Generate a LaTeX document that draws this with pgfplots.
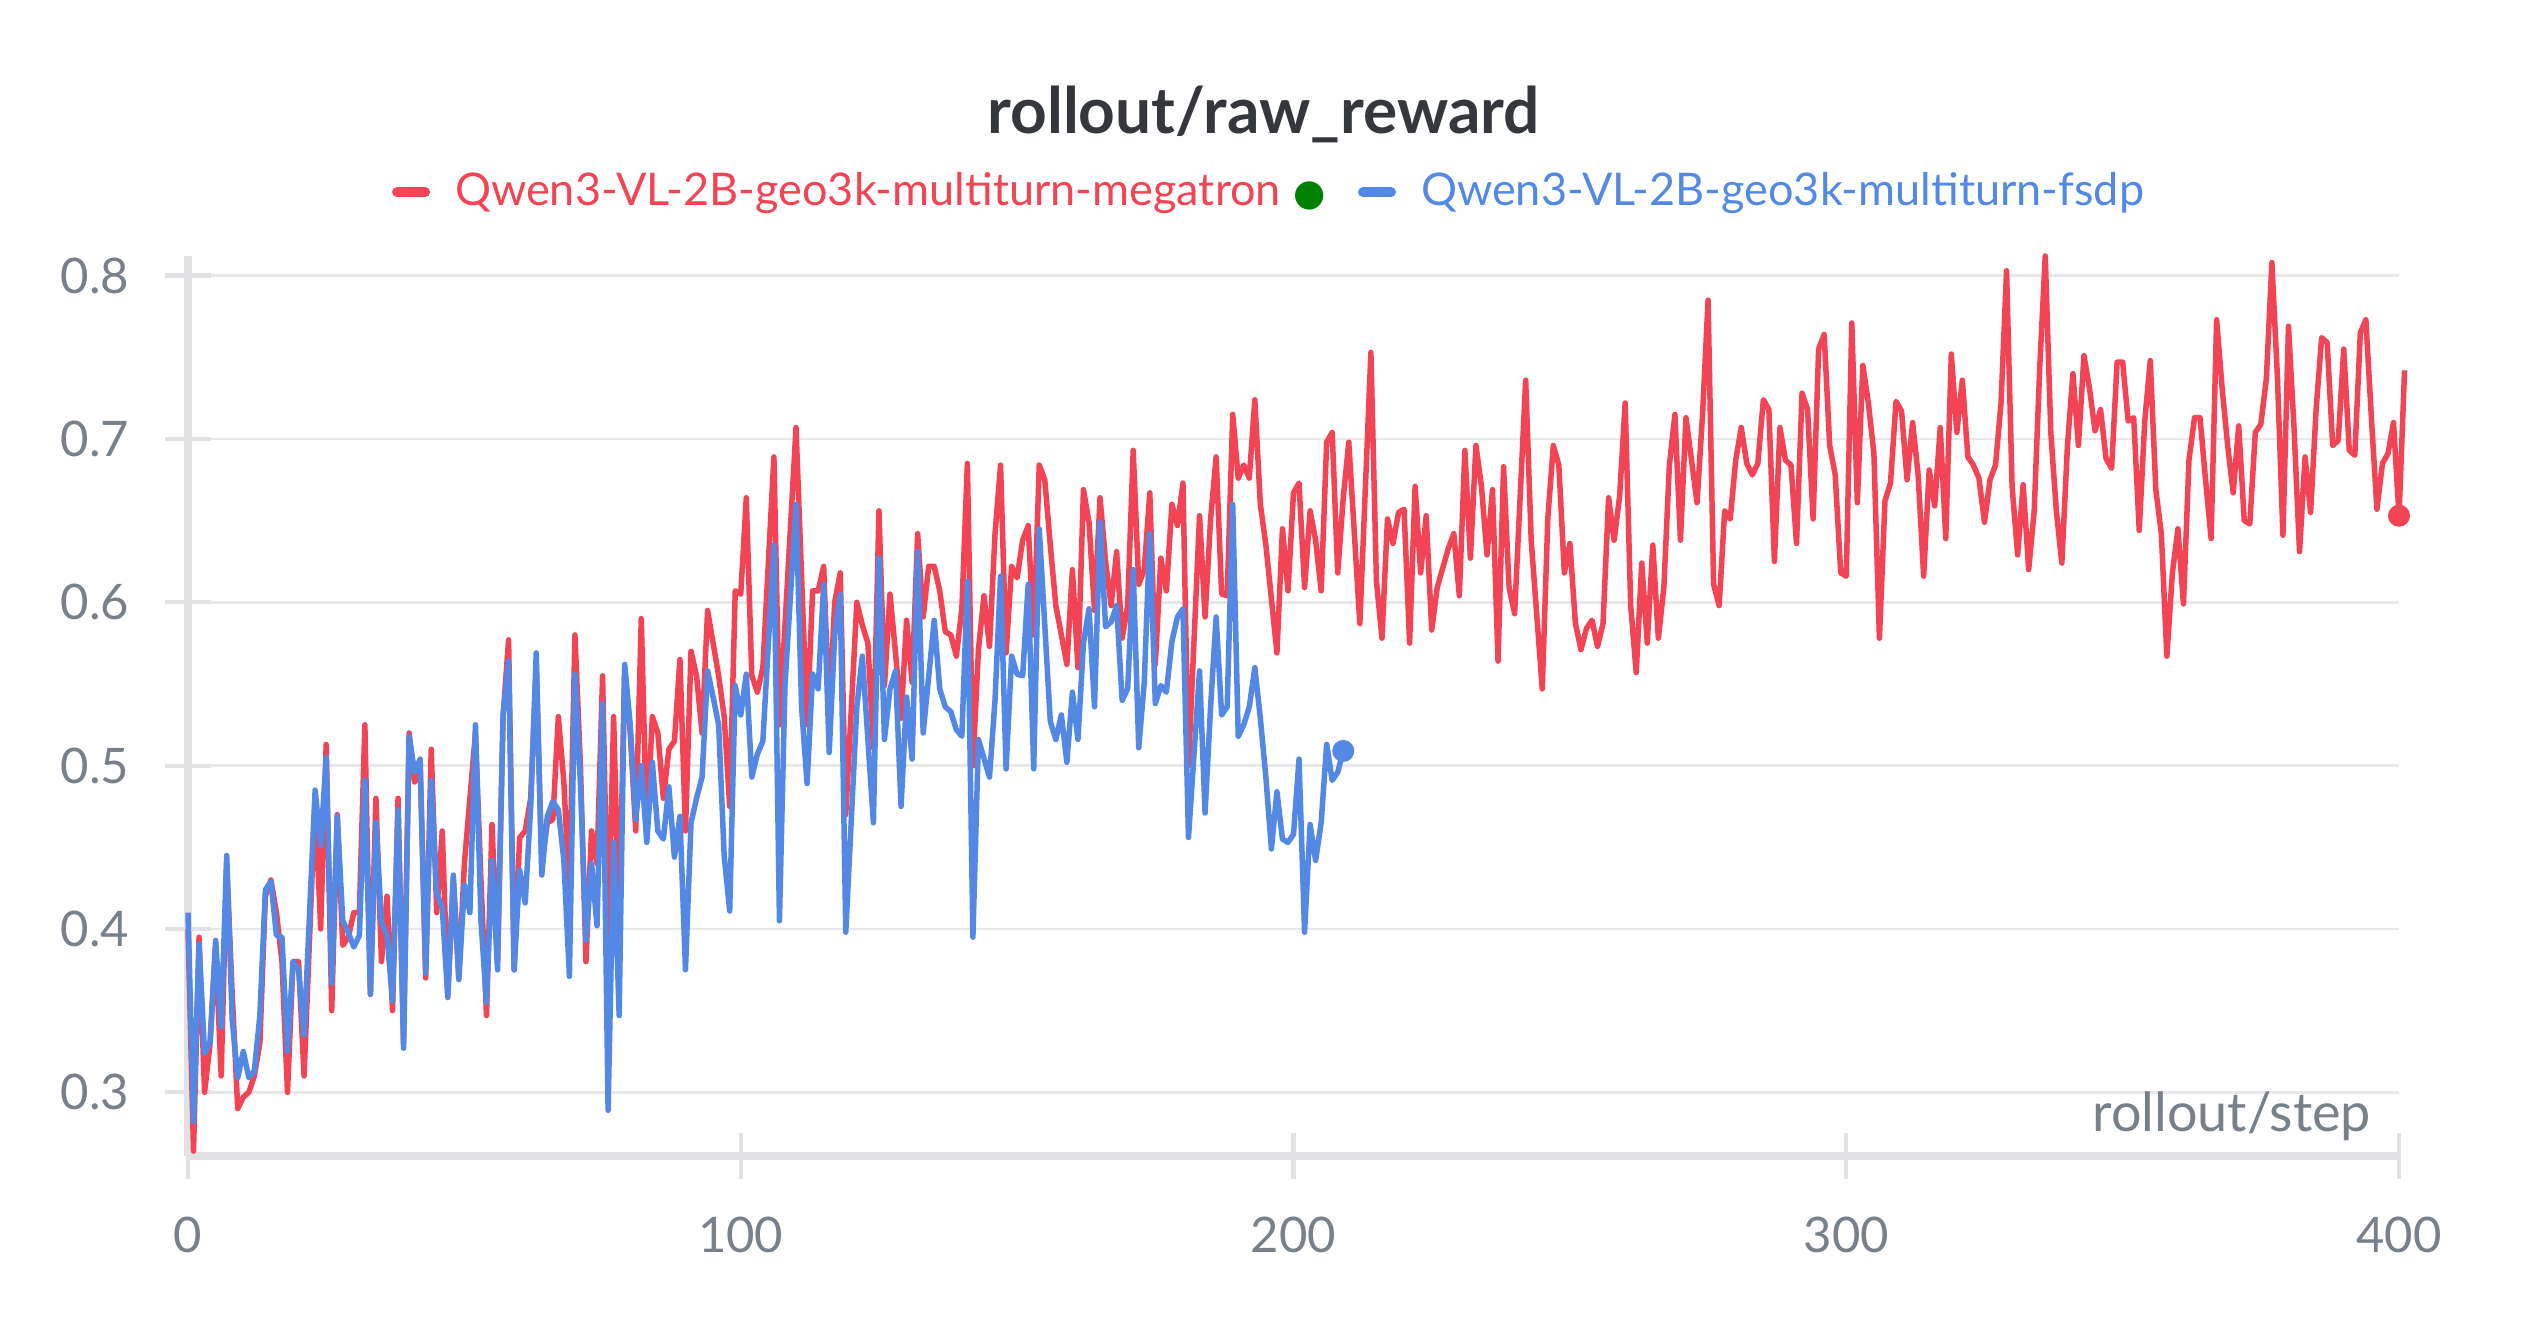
\documentclass[border=0pt]{standalone}
\usepackage{fontspec}
\setmainfont{Lato}
\newfontfamily\dejavu{DejaVu Sans}
\usepackage{pgfplots}
\usepackage{pgfplotstable}
\pgfplotsset{compat=1.18}
\definecolor{redc}{RGB}{242,68,84}
\definecolor{bluec}{RGB}{83,137,228}
\definecolor{dotgreen}{RGB}{0,128,0}
\definecolor{gridc}{RGB}{232,232,235}
\definecolor{axisc}{RGB}{226,226,229}
\definecolor{tickc}{RGB}{120,128,138}
\definecolor{titlec}{RGB}{52,55,60}

\pgfplotstableread{
x y
0 0.400
1 0.264
2 0.395
3 0.300
4 0.330
5 0.390
6 0.310
7 0.440
8 0.360
9 0.290
10 0.297
11 0.300
12 0.310
13 0.330
14 0.420
15 0.430
16 0.410
17 0.380
18 0.300
19 0.380
20 0.380
21 0.310
23 0.480
24 0.400
25 0.513
26 0.350
27 0.470
28 0.390
29 0.395
30 0.410
31 0.410
32 0.525
33 0.360
34 0.480
35 0.380
36 0.420
37 0.350
38 0.480
39 0.330
40 0.520
41 0.490
42 0.500
43 0.370
44 0.510
45 0.410
46 0.460
47 0.360
48 0.430
49 0.370
50 0.440
52 0.520
53 0.430
54 0.347
55 0.464
56 0.380
57 0.530
58 0.577
59 0.375
60 0.456
61 0.460
62 0.480
63 0.560
64 0.440
65 0.465
66 0.467
67 0.530
68 0.490
69 0.420
70 0.580
71 0.500
72 0.380
73 0.460
74 0.440
75 0.555
76 0.390
77 0.530
78 0.400
79 0.560
80 0.520
81 0.460
82 0.590
83 0.460
84 0.530
85 0.520
86 0.480
87 0.510
88 0.515
89 0.565
90 0.460
91 0.570
92 0.555
93 0.520
94 0.595
95 0.575
96 0.555
97 0.530
98 0.475
99 0.607
100 0.605
101 0.664
102 0.555
103 0.545
104 0.560
106 0.689
107 0.525
110 0.707
112 0.525
113 0.607
114 0.607
115 0.622
116 0.530
117 0.600
118 0.618
119 0.470
121 0.600
122 0.586
123 0.575
124 0.511
125 0.656
126 0.549
127 0.605
128 0.569
129 0.529
130 0.589
131 0.551
132 0.642
133 0.591
134 0.622
135 0.622
136 0.607
137 0.582
138 0.580
139 0.567
140 0.596
141 0.685
142 0.500
143 0.571
144 0.604
145 0.573
146 0.642
147 0.684
148 0.569
149 0.622
150 0.615
151 0.638
152 0.647
153 0.580
154 0.684
155 0.675
156 0.635
157 0.598
158 0.580
159 0.562
160 0.620
161 0.560
162 0.669
163 0.649
164 0.595
165 0.664
166 0.625
167 0.598
168 0.631
169 0.578
170 0.598
171 0.693
172 0.611
173 0.620
174 0.667
175 0.562
176 0.627
177 0.607
178 0.660
179 0.647
180 0.673
181 0.500
183 0.653
184 0.591
185 0.651
186 0.689
187 0.605
188 0.604
189 0.715
190 0.676
191 0.684
192 0.676
193 0.724
194 0.660
195 0.635
196 0.602
197 0.569
198 0.645
199 0.607
200 0.667
201 0.673
202 0.609
203 0.656
204 0.638
205 0.607
206 0.698
207 0.704
208 0.618
209 0.664
210 0.698
212 0.587
214 0.753
215 0.613
216 0.578
217 0.651
218 0.636
219 0.655
220 0.657
221 0.575
222 0.671
223 0.618
224 0.653
225 0.583
226 0.609
228 0.633
229 0.642
230 0.604
231 0.693
232 0.627
233 0.696
234 0.671
235 0.629
236 0.669
237 0.564
238 0.683
239 0.609
240 0.593
242 0.736
243 0.638
245 0.547
246 0.651
247 0.696
248 0.684
249 0.618
250 0.636
251 0.587
252 0.571
253 0.584
254 0.589
255 0.573
256 0.587
257 0.664
258 0.638
259 0.665
260 0.722
261 0.598
262 0.557
263 0.624
264 0.575
265 0.635
266 0.578
267 0.609
268 0.684
269 0.715
270 0.638
271 0.713
272 0.687
273 0.661
274 0.715
275 0.785
276 0.611
277 0.598
278 0.656
279 0.651
280 0.687
281 0.707
282 0.685
283 0.678
284 0.685
285 0.724
286 0.718
287 0.625
288 0.707
289 0.687
290 0.684
291 0.636
292 0.728
293 0.718
294 0.651
295 0.755
296 0.764
297 0.696
298 0.678
299 0.618
300 0.616
301 0.771
302 0.661
303 0.745
304 0.722
305 0.691
306 0.578
307 0.662
308 0.673
309 0.723
310 0.717
311 0.675
312 0.710
313 0.678
314 0.616
315 0.681
316 0.659
317 0.707
318 0.639
319 0.752
320 0.704
321 0.736
322 0.689
323 0.684
324 0.676
325 0.649
326 0.675
327 0.684
328 0.722
329 0.803
330 0.671
331 0.629
332 0.672
333 0.620
334 0.656
335 0.744
336 0.812
337 0.704
338 0.656
339 0.624
340 0.695
341 0.740
342 0.696
343 0.751
344 0.731
345 0.705
346 0.718
347 0.688
348 0.682
349 0.747
350 0.747
351 0.711
352 0.713
353 0.644
354 0.711
355 0.748
356 0.669
357 0.642
358 0.567
359 0.618
360 0.645
361 0.599
362 0.687
363 0.713
364 0.713
365 0.675
366 0.639
367 0.773
368 0.731
369 0.696
370 0.667
371 0.708
372 0.650
373 0.648
374 0.704
375 0.709
376 0.737
377 0.808
378 0.738
379 0.641
380 0.769
381 0.707
382 0.631
383 0.689
384 0.655
385 0.718
386 0.762
387 0.759
388 0.696
389 0.699
390 0.755
391 0.693
392 0.690
393 0.765
394 0.773
395 0.713
396 0.657
397 0.685
398 0.691
399 0.710
400 0.653
401 0.742
}\megatron

\pgfplotstableread{
x y
0 0.410
1 0.282
2 0.391
3 0.324
4 0.331
5 0.393
6 0.340
7 0.445
8 0.344
9 0.309
10 0.325
11 0.309
12 0.313
13 0.347
14 0.424
15 0.429
16 0.396
17 0.395
18 0.325
19 0.380
20 0.375
21 0.335
23 0.485
24 0.451
25 0.505
26 0.367
27 0.469
28 0.405
29 0.398
30 0.389
31 0.396
32 0.491
33 0.360
34 0.465
35 0.404
36 0.396
37 0.356
38 0.473
39 0.327
40 0.518
41 0.496
42 0.504
43 0.373
44 0.491
45 0.422
46 0.413
47 0.358
48 0.433
49 0.369
50 0.427
51 0.410
52 0.525
53 0.405
54 0.355
55 0.442
56 0.375
57 0.531
58 0.564
59 0.375
60 0.436
61 0.416
62 0.475
63 0.569
64 0.433
65 0.469
66 0.478
67 0.473
68 0.442
69 0.371
70 0.556
71 0.489
72 0.393
73 0.440
74 0.402
75 0.538
76 0.289
77 0.453
78 0.347
79 0.562
80 0.525
81 0.467
82 0.500
83 0.453
84 0.502
85 0.460
86 0.455
87 0.487
88 0.444
89 0.469
90 0.375
91 0.465
92 0.480
93 0.493
94 0.558
95 0.542
96 0.525
97 0.445
98 0.411
99 0.549
100 0.531
101 0.556
102 0.493
103 0.507
104 0.515
106 0.635
107 0.405
108 0.549
110 0.660
111 0.536
112 0.489
113 0.556
114 0.547
115 0.611
116 0.508
117 0.580
118 0.605
119 0.398
121 0.536
122 0.567
124 0.465
125 0.627
126 0.516
127 0.547
128 0.558
129 0.475
130 0.542
131 0.504
132 0.631
133 0.520
135 0.589
136 0.547
137 0.536
138 0.533
139 0.522
140 0.518
141 0.613
142 0.395
143 0.516
145 0.493
146 0.540
147 0.616
148 0.498
149 0.567
150 0.556
151 0.555
152 0.611
153 0.498
154 0.645
156 0.527
157 0.516
158 0.531
159 0.502
160 0.545
161 0.516
162 0.575
163 0.596
164 0.536
165 0.649
166 0.585
167 0.588
168 0.598
169 0.540
170 0.547
171 0.620
172 0.511
173 0.551
174 0.642
175 0.538
176 0.549
177 0.545
178 0.576
179 0.591
180 0.596
181 0.456
182 0.507
183 0.558
184 0.471
185 0.536
186 0.591
187 0.531
188 0.536
189 0.660
190 0.518
191 0.525
192 0.536
193 0.560
194 0.529
195 0.493
196 0.449
197 0.484
198 0.455
199 0.453
200 0.458
201 0.504
202 0.398
203 0.464
204 0.442
205 0.465
206 0.513
207 0.491
208 0.496
209 0.509
}\fsdp

\begin{document}
\begin{tikzpicture}
\path[use as bounding box] (-37.6pt,-34.2pt) rectangle (467.8pt,231.2pt);
\begin{axis}[
  scale only axis,
  width=442.2pt, height=180pt,
  xmin=0, xmax=400, ymin=0.261, ymax=0.812,
  clip=false,
  axis x line*=bottom, axis y line*=left,
  axis line style={-, draw=axisc, line width=1.45pt},
  xtick={0,100,200,300,400},
  ytick={0.3,0.4,0.5,0.6,0.7,0.8},
  yticklabels={0.3,0.4,0.5,0.6,0.7,0.8},
  tick align=center,
  major tick length=9.2pt,
  tick style={draw=axisc, line width=0.85pt},
  ymajorgrids,
  grid style={draw=gridc, line width=0.55pt},
  /pgf/number format/assume math mode=true,
  tick label style={font=\fontsize{9.8}{12}\selectfont, text=tickc, inner sep=0pt},
  yticklabel style={anchor=east, xshift=-7pt},
  xticklabel style={anchor=north, yshift=-7.4pt},
  xlabel={rollout/step},
  xlabel style={at={(rel axis cs:1,0)}, anchor=base east, xshift=-5.4pt, yshift=5pt,
    inner sep=0pt, font=\fontsize{10.8}{12}\selectfont, text=tickc},
  title={rollout/raw\_reward},
  title style={at={(rel axis cs:0.5,1)}, anchor=base, yshift=18.6pt, xshift=-6pt,
    inner sep=0pt, font=\bfseries\fontsize{12.8}{15}\selectfont, text=titlec},
  legend columns=2,
  legend style={at={(0.5,1)}, anchor=south, xshift=-5.1pt, yshift=8.5pt,
    draw=none, fill=none, inner sep=0pt,
    font=\fontsize{9.0}{11}\selectfont,
    nodes={inner sep=0pt},
    /tikz/every odd column/.append style={column sep=5pt},
    /tikz/every even column/.append style={column sep=6.4pt}},
  legend image code/.code={\draw[#1, line width=2pt, line cap=round] (1pt,0pt) -- (6.6pt,0pt);},
]
\addplot[redc, line width=1.1pt, line join=round] table[x=x, y=y] {\megatron};
\addlegendentry{\textcolor{redc}{Qwen3-VL-2B-geo3k-multiturn-megatron}\hspace{2.6pt}{\dejavu\fontsize{7.4}{9}\selectfont\textcolor{dotgreen}{●}}}
\addplot[bluec, line width=1.1pt, line join=round] table[x=x, y=y] {\fsdp};
\addlegendentry{\textcolor{bluec}{Qwen3-VL-2B-geo3k-multiturn-fsdp}}
\addplot[forget plot, only marks, mark=*, mark size=2pt, color=redc] coordinates {(400,0.653)};
\addplot[forget plot, only marks, mark=*, mark size=2pt, color=bluec] coordinates {(209,0.509)};
\end{axis}
\end{tikzpicture}
\end{document}
